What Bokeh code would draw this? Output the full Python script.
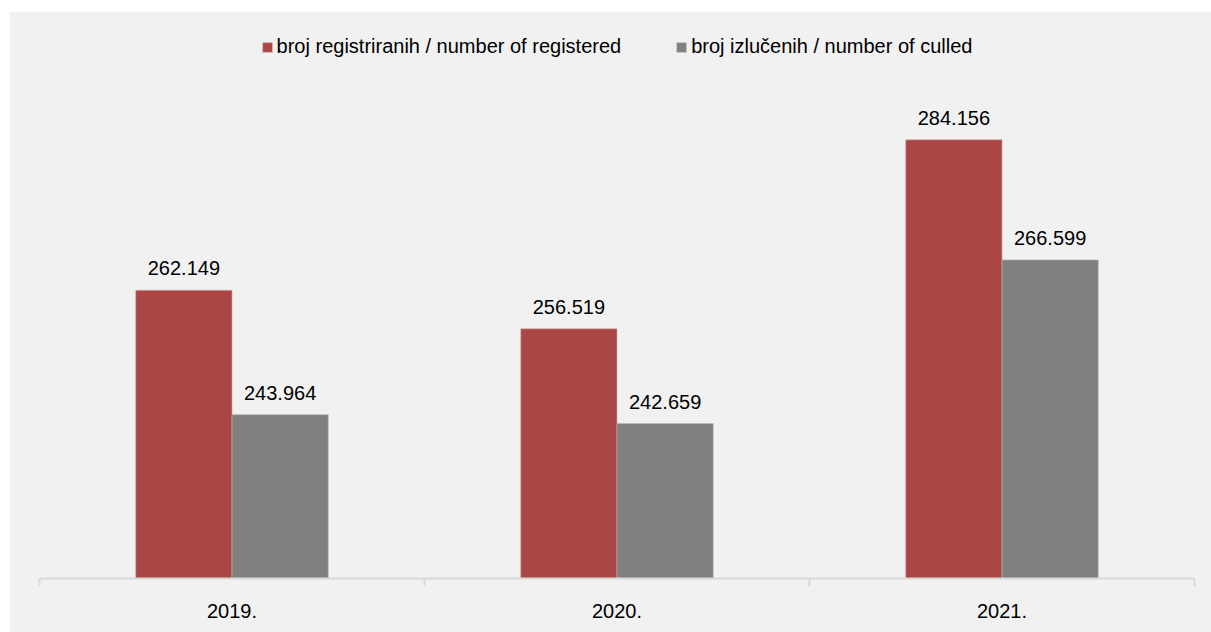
from bokeh.plotting import figure
from bokeh.models import ColumnDataSource, FixedTicker, Range1d, Legend, LegendItem, Spacer
from bokeh.layouts import column, row
from bokeh.core.properties import value
from bokeh.embed import file_html
from bokeh.resources import INLINE

years = ["2019.", "2020.", "2021."]
registered = [262149, 256519, 284156]
culled = [243964, 242659, 266599]
series_names = ["broj registriranih / number of registered", "broj izlučenih / number of culled"]
colors = ["#AA4643", "#808080"]

FONT = "Liberation Sans"
BG = "#F1F1F1"

def fmt(v):
    return f"{v:,}".replace(",", ".")

idx = list(range(len(years)))
bw = 0.25
src_r = ColumnDataSource(dict(x=[i + 0.5 - bw / 2 for i in idx], top=registered,
                              lab=[fmt(v) for v in registered]))
src_c = ColumnDataSource(dict(x=[i + 0.5 + bw / 2 for i in idx], top=culled,
                              lab=[fmt(v) for v in culled]))

p = figure(width=1202, height=621, output_backend="svg", toolbar_location=None,
           x_range=Range1d(0, len(years)), y_range=Range1d(220000, 300000),
           min_border_left=30, min_border_right=17, min_border_top=20, min_border_bottom=54)
p.background_fill_color = BG
p.border_fill_color = BG
p.outline_line_color = None
p.grid.visible = False
p.yaxis.visible = False

r1 = p.vbar(x="x", top="top", bottom=220000, width=bw, source=src_r, fill_color=colors[0],
            line_color="#C9A9A8", line_width=0.6)
r2 = p.vbar(x="x", top="top", bottom=220000, width=bw, source=src_c, fill_color=colors[1],
            line_color="#B8B8B8", line_width=0.6)

for s in (src_r, src_c):
    p.text(x="x", y="top", text="lab", source=s, text_align="center", text_baseline="bottom",
           y_offset=-15, text_font=value(FONT), text_font_size="20px", text_color="#000000")

ax = p.xaxis[0]
ax.ticker = FixedTicker(ticks=[i + 0.5 for i in idx], minor_ticks=list(range(len(years) + 1)))
ax.major_label_overrides = {i + 0.5: y for i, y in zip(idx, years)}
ax.major_tick_in = 0
ax.major_tick_out = 0
ax.minor_tick_in = 0
ax.minor_tick_out = 8
ax.minor_tick_line_color = "#D9D9D9"
ax.minor_tick_line_width = 2
ax.axis_line_color = "#D9D9D9"
ax.axis_line_width = 2
ax.major_label_text_font = FONT
ax.major_label_text_font_size = "20px"
ax.major_label_text_color = "#000000"
ax.major_label_standoff = 17

legend = Legend(items=[LegendItem(label=series_names[0], renderers=[r1]),
                       LegendItem(label=series_names[1], renderers=[r2])],
                orientation="horizontal", location="top_center")
legend.background_fill_alpha = 0
legend.border_line_color = None
legend.label_text_font = FONT
legend.label_text_font_size = "20px"
legend.label_text_color = "#000000"
legend.glyph_width = 12
legend.glyph_height = 12
legend.label_standoff = 4
legend.spacing = 54
legend.margin = 4
legend.padding = 2
p.add_layout(legend, "center")

layout = column(Spacer(height=11), row(Spacer(width=9), p, spacing=0), spacing=0)
open("out.html", "w").write(file_html(layout, INLINE))
